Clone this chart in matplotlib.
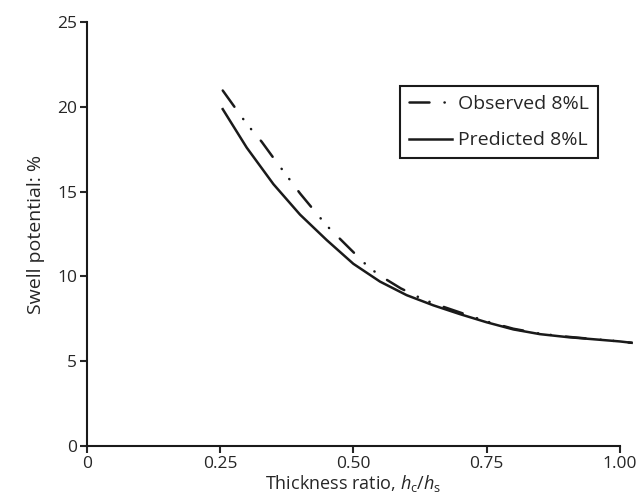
import matplotlib
matplotlib.use("Agg")
import matplotlib.pyplot as plt

plt.rcParams['font.family'] = ['Open Sans', 'DejaVu Sans']
plt.rcParams['mathtext.fontset'] = 'custom'
plt.rcParams['mathtext.rm'] = 'Open Sans'
plt.rcParams['mathtext.it'] = 'Open Sans:italic'

obs_x = [0.255, 0.30, 0.328, 0.35, 0.40, 0.45, 0.49, 0.527, 0.55, 0.589, 0.631, 0.656, 0.70, 0.75,
         0.80, 0.85, 0.90, 0.95, 1.00, 1.022]
obs_y = [20.97, 19.0, 17.95, 17.0, 14.9, 13.0, 11.75, 10.6, 10.05, 9.3, 8.65, 8.35, 7.88, 7.35,
         6.92, 6.63, 6.45, 6.31, 6.17, 6.09]
pred_x = [0.255, 0.30, 0.35, 0.40, 0.45, 0.50, 0.55, 0.60, 0.65, 0.70, 0.75, 0.80, 0.85, 0.90,
          0.95, 1.00, 1.022]
pred_y = [19.87, 17.6, 15.45, 13.65, 12.15, 10.75, 9.7, 8.9, 8.3, 7.78, 7.3, 6.88, 6.6, 6.43,
          6.3, 6.17, 6.09]
xticks = [0, 0.25, 0.50, 0.75, 1.00]
xticklabels = ['0', '0.25', '0.50', '0.75', '1.00']
yticks = [0, 5, 10, 15, 20, 25]

fig = plt.figure(figsize=(6.43, 5.04), dpi=100)
ax = fig.add_axes([0.135, 0.115, 0.829, 0.841])

ax.plot(obs_x, obs_y, color='#1a1a1a', lw=1.8, linestyle=(0, (8, 6, 0.1, 5, 0.1, 6)),
        dash_capstyle='round', clip_on=False, label='Observed 8%L')
ax.plot(pred_x, pred_y, color='#1a1a1a', lw=1.8, clip_on=False, label='Predicted 8%L')

ax.set_xlim(0, 1.0)
ax.set_ylim(0, 25)
ax.set_xticks(xticks)
ax.set_xticklabels(xticklabels)
ax.set_yticks(yticks)
ax.spines['top'].set_visible(False)
ax.spines['right'].set_visible(False)
for s in ['left', 'bottom']:
    ax.spines[s].set_linewidth(1.5)
    ax.spines[s].set_color('#1a1a1a')
ax.tick_params(direction='out', width=1.5, length=5, labelsize=12.5, colors='#262626', pad=2)

ax.set_xlabel(r'Thickness ratio, $\mathit{h}_\mathrm{c}/\mathit{h}_\mathrm{s}$', fontsize=13, labelpad=1,
              color='#262626')
ax.set_ylabel('Swell potential: %', fontsize=14, labelpad=9, color='#262626')

leg = ax.legend(loc='upper right', bbox_to_anchor=(0.959, 0.849), fontsize=14,
                frameon=True, fancybox=False, edgecolor='#1a1a1a', handlelength=2.2,
                borderpad=0.45, labelspacing=0.95, handletextpad=0.35, borderaxespad=0,
                framealpha=1)
leg.get_frame().set_linewidth(1.5)
for t in leg.get_texts():
    t.set_color('#262626')

fig.savefig('out.png', dpi=100)
